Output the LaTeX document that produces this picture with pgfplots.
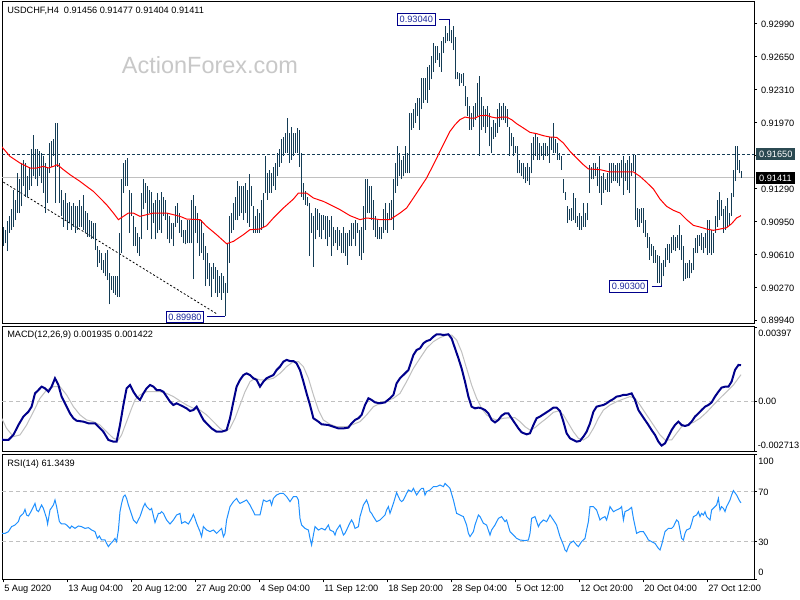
\documentclass[border=0pt]{standalone}
\usepackage{pgfplots}
\pgfplotsset{compat=1.18}
\usepackage{pgfplotstable}
\usepackage{fontspec}
\setmainfont{Liberation Sans}
\definecolor{barcol}{HTML}{143C55}
\definecolor{dsg}{HTML}{2B4A52}
\definecolor{navyb}{HTML}{00008B}
\definecolor{lblue}{HTML}{1E2A9E}
\definecolor{dodger}{HTML}{1E90FF}
\definecolor{silv}{HTML}{C0C0C0}
\definecolor{wm}{HTML}{C8C8C8}
\newcommand{\fs}{\fontsize{6.9}{8}\selectfont}

\pgfplotstableread{
lo hi
0.9070 0.9090
0.9073 0.9087
0.9065 0.9096
0.9084 0.9101
0.9087 0.9108
0.9090 0.9128
0.9097 0.9118
0.9104 0.9145
0.9104 0.9139
0.9111 0.9156
0.9132 0.9159
0.9121 0.9156
0.9121 0.9142
0.9128 0.9152
0.9132 0.9170
0.9142 0.9185
0.9139 0.9170
0.9132 0.9170
0.9142 0.9168
0.9135 0.9166
0.9125 0.9163
0.9104 0.9156
0.9115 0.9152
0.9145 0.9176
0.9152 0.9178
0.9163 0.9180
0.9115 0.9197
0.9152 0.9197
0.9115 0.9156
0.9101 0.9128
0.9090 0.9118
0.9097 0.9125
0.9087 0.9115
0.9094 0.9116
0.9087 0.9111
0.9090 0.9115
0.9084 0.9111
0.9087 0.9111
0.9090 0.9118
0.9090 0.9111
0.9087 0.9123
0.9084 0.9106
0.9080 0.9104
0.9080 0.9097
0.9077 0.9096
0.9077 0.9094
0.9066 0.9094
0.9049 0.9070
0.9053 0.9066
0.9046 0.9063
0.9042 0.9056
0.9039 0.9063
0.9035 0.9066
0.9010 0.9042
0.9025 0.9039
0.9022 0.9039
0.9020 0.9039
0.9018 0.9039
0.9018 0.9084
0.9063 0.9139
0.9125 0.9156
0.9132 0.9159
0.9132 0.9161
0.9084 0.9128
0.9101 0.9125
0.9070 0.9101
0.9070 0.9090
0.9063 0.9084
0.9060 0.9080
0.9077 0.9125
0.9108 0.9139
0.9115 0.9135
0.9087 0.9132
0.9104 0.9128
0.9077 0.9126
0.9094 0.9115
0.9077 0.9118
0.9084 0.9125
0.9087 0.9118
0.9084 0.9126
0.9101 0.9121
0.9097 0.9118
0.9077 0.9104
0.9073 0.9101
0.9077 0.9094
0.9070 0.9094
0.9090 0.9111
0.9094 0.9115
0.9084 0.9104
0.9080 0.9097
0.9073 0.9087
0.9072 0.9087
0.9073 0.9097
0.9073 0.9097
0.9073 0.9118
0.9036 0.9123
0.9084 0.9111
0.9073 0.9104
0.9060 0.9097
0.9063 0.9097
0.9056 0.9084
0.9029 0.9070
0.9036 0.9063
0.9029 0.9053
0.9018 0.9049
0.9036 0.9053
0.9022 0.9049
0.9018 0.9046
0.9022 0.9039
0.9015 0.9042
0.9022 0.9039
0.8998 0.9032
0.9022 0.9073
0.9053 0.9101
0.9084 0.9104
0.9087 0.9115
0.9097 0.9121
0.9097 0.9137
0.9101 0.9132
0.9104 0.9132
0.9097 0.9132
0.9104 0.9135
0.9094 0.9128
0.9090 0.9144
0.9111 0.9132
0.9084 0.9111
0.9084 0.9101
0.9084 0.9108
0.9084 0.9104
0.9087 0.9118
0.9090 0.9125
0.9125 0.9163
0.9118 0.9145
0.9125 0.9149
0.9125 0.9145
0.9132 0.9152
0.9128 0.9156
0.9142 0.9166
0.9152 0.9170
0.9156 0.9180
0.9163 0.9183
0.9166 0.9187
0.9166 0.9202
0.9156 0.9187
0.9159 0.9193
0.9163 0.9187
0.9166 0.9187
0.9166 0.9192
0.9152 0.9190
0.9121 0.9166
0.9118 0.9135
0.9113 0.9127
0.9111 0.9121
0.9060 0.9115
0.9084 0.9104
0.9049 0.9101
0.9077 0.9109
0.9087 0.9108
0.9080 0.9104
0.9077 0.9102
0.9087 0.9102
0.9077 0.9101
0.9070 0.9101
0.9080 0.9097
0.9060 0.9101
0.9070 0.9090
0.9073 0.9087
0.9066 0.9090
0.9070 0.9087
0.9063 0.9084
0.9063 0.9090
0.9060 0.9084
0.9051 0.9084
0.9070 0.9087
0.9070 0.9094
0.9077 0.9094
0.9070 0.9097
0.9084 0.9094
0.9060 0.9087
0.9056 0.9090
0.9063 0.9111
0.9087 0.9139
0.9104 0.9139
0.9104 0.9132
0.9097 0.9132
0.9087 0.9118
0.9080 0.9101
0.9077 0.9097
0.9077 0.9090
0.9077 0.9090
0.9084 0.9108
0.9087 0.9115
0.9084 0.9104
0.9097 0.9115
0.9097 0.9118
0.9087 0.9139
0.9125 0.9156
0.9132 0.9173
0.9142 0.9166
0.9139 0.9159
0.9142 0.9163
0.9145 0.9173
0.9145 0.9166
0.9145 0.9207
0.9190 0.9207
0.9192 0.9211
0.9197 0.9218
0.9204 0.9223
0.9190 0.9223
0.9211 0.9243
0.9218 0.9243
0.9221 0.9243
0.9218 0.9255
0.9231 0.9257
0.9242 0.9266
0.9250 0.9279
0.9259 0.9276
0.9262 0.9276
0.9255 0.9269
0.9250 0.9281
0.9269 0.9286
0.9279 0.9297
0.9281 0.9290
0.9281 0.9304
0.9279 0.9293
0.9272 0.9297
0.9242 0.9286
0.9242 0.9250
0.9235 0.9248
0.9238 0.9247
0.9235 0.9248
0.9214 0.9235
0.9204 0.9224
0.9190 0.9214
0.9190 0.9207
0.9193 0.9214
0.9200 0.9218
0.9204 0.9238
0.9163 0.9245
0.9190 0.9224
0.9193 0.9214
0.9187 0.9211
0.9193 0.9214
0.9173 0.9207
0.9166 0.9193
0.9180 0.9200
0.9183 0.9197
0.9187 0.9211
0.9193 0.9218
0.9200 0.9214
0.9200 0.9218
0.9197 0.9214
0.9193 0.9211
0.9163 0.9193
0.9173 0.9187
0.9163 0.9183
0.9166 0.9173
0.9145 0.9173
0.9145 0.9159
0.9142 0.9156
0.9139 0.9156
0.9135 0.9152
0.9137 0.9156
0.9133 0.9152
0.9145 0.9176
0.9159 0.9183
0.9163 0.9187
0.9159 0.9183
0.9159 0.9176
0.9163 0.9173
0.9159 0.9176
0.9163 0.9176
0.9163 0.9173
0.9156 0.9183
0.9169 0.9183
0.9166 0.9197
0.9166 0.9180
0.9159 0.9176
0.9159 0.9166
0.9149 0.9163
0.9125 0.9139
0.9118 0.9126
0.9094 0.9111
0.9097 0.9108
0.9096 0.9109
0.9097 0.9125
0.9094 0.9120
0.9090 0.9101
0.9087 0.9104
0.9087 0.9101
0.9090 0.9115
0.9090 0.9104
0.9097 0.9115
0.9125 0.9154
0.9139 0.9152
0.9139 0.9156
0.9142 0.9156
0.9132 0.9152
0.9125 0.9163
0.9113 0.9142
0.9125 0.9145
0.9128 0.9139
0.9126 0.9145
0.9126 0.9156
0.9135 0.9156
0.9137 0.9156
0.9137 0.9154
0.9135 0.9156
0.9132 0.9156
0.9140 0.9159
0.9123 0.9163
0.9137 0.9156
0.9128 0.9159
0.9125 0.9163
0.9142 0.9156
0.9147 0.9164
0.9097 0.9164
0.9090 0.9109
0.9090 0.9108
0.9094 0.9109
0.9084 0.9109
0.9080 0.9097
0.9068 0.9084
0.9056 0.9080
0.9060 0.9072
0.9053 0.9070
0.9053 0.9066
0.9032 0.9061
0.9032 0.9060
0.9030 0.9053
0.9039 0.9056
0.9049 0.9068
0.9056 0.9072
0.9053 0.9072
0.9063 0.9080
0.9066 0.9082
0.9065 0.9080
0.9068 0.9082
0.9066 0.9092
0.9056 0.9082
0.9034 0.9070
0.9036 0.9053
0.9037 0.9053
0.9037 0.9056
0.9042 0.9053
0.9046 0.9068
0.9063 0.9078
0.9063 0.9082
0.9070 0.9082
0.9066 0.9084
0.9063 0.9080
0.9068 0.9084
0.9061 0.9097
0.9063 0.9097
0.9061 0.9087
0.9063 0.9084
0.9084 0.9101
0.9090 0.9118
0.9097 0.9126
0.9101 0.9118
0.9084 0.9108
0.9087 0.9111
0.9090 0.9120
0.9092 0.9104
0.9101 0.9125
0.9121 0.9149
0.9137 0.9173
0.9149 0.9173
0.9145 0.9159
0.91404 0.91477
}\bars

\pgfplotstableread{
x y
-1.5 0.91746
3.5 0.91626
8.5 0.91557
13.5 0.91506
16.8 0.91506
20.2 0.91523
22.7 0.91506
25.2 0.91523
27.2 0.91540
30.2 0.91489
33.5 0.91437
38.5 0.91368
41.8 0.91317
45.2 0.91265
48.5 0.91197
51.8 0.91128
55.2 0.91042
57.7 0.90974
60.2 0.91008
62.7 0.91042
65.2 0.91042
68.5 0.91008
71.8 0.91025
75.2 0.91042
78.5 0.91042
81.8 0.91042
85.2 0.91025
88.5 0.91008
91.8 0.90980
98.5 0.90974
101.8 0.90905
106.8 0.90819
111.8 0.90726
115.2 0.90750
120.2 0.90819
123.5 0.90871
128.5 0.90877
131.8 0.90912
135.2 0.90991
140.2 0.91094
145.2 0.91186
147.7 0.91248
151.8 0.91248
155.2 0.91197
160.2 0.91162
165.2 0.91111
168.5 0.91077
173.5 0.91015
178.5 0.90974
181.8 0.90991
185.2 0.90984
188.5 0.90974
193.5 0.90974
196 0.91008
198.5 0.91042
201.8 0.91094
205.2 0.91197
208.5 0.91300
211.8 0.91403
215.2 0.91540
218.5 0.91678
221 0.91781
223.5 0.91884
226 0.91952
228.5 0.92004
231 0.92031
233.5 0.92021
236 0.92021
238.5 0.92045
241.8 0.92048
244.3 0.92031
246.8 0.92021
249.3 0.92031
251.8 0.92031
254.3 0.92004
256.8 0.91963
260.2 0.91918
263.5 0.91873
266.8 0.91860
270.2 0.91839
273.5 0.91825
276.8 0.91822
280.2 0.91763
283.5 0.91678
286.8 0.91609
290.2 0.91540
292.7 0.91496
298.5 0.91489
303.5 0.91465
308.5 0.91465
315.2 0.91465
318.5 0.91420
321.8 0.91358
325.2 0.91290
328.5 0.91186
331.8 0.91111
335.2 0.91070
338.5 0.91042
341.8 0.90974
345.2 0.90915
348.5 0.90898
351.8 0.90877
355.2 0.90864
358.5 0.90877
361.8 0.90891
364.3 0.90932
366.8 0.90991
369 0.91015
}\ma

\pgfplotstableread{
x y
-1.5 -0.00198
0.2 -0.00207
2.7 -0.00207
5.2 -0.00180
7.7 -0.00127
10.2 -0.00082
12.7 -0.00056
14.3 -0.00029
16 0.00042
17.7 0.00060
19.3 0.00078
21 0.00069
22.7 0.00051
24.3 0.00078
26 0.00123
27.7 0.00087
29.3 0.00025
31 -0.00011
33.5 -0.00065
35.2 -0.00091
36.8 -0.00104
40.2 -0.00109
42.7 -0.00118
46 -0.00118
47.7 -0.00136
50.2 -0.00163
52.7 -0.00207
55.2 -0.00216
56.8 -0.00216
58.5 -0.00127
60.2 -0.00020
61.8 0.00069
63.5 0.00087
65.2 0.00051
66.8 0.00025
68.5 0.00007
70.2 0.00042
71.8 0.00069
73.5 0.00087
75.2 0.00078
76.8 0.00060
78.5 0.00060
80.2 0.00051
81.8 0.00025
83.5 -0.00002
85.2 -0.00020
86.8 -0.00011
88.5 -0.00020
90.2 -0.00029
91.8 -0.00038
93.5 -0.00052
95.2 -0.00047
96.8 -0.00029
98.5 -0.00065
100.2 -0.00100
101.8 -0.00118
104.3 -0.00145
106.8 -0.00163
109.3 -0.00163
111.8 -0.00154
113.5 -0.00091
115.2 -0.00002
116.8 0.00078
118.5 0.00114
120.2 0.00140
121.8 0.00149
123.5 0.00140
125.2 0.00123
126.8 0.00114
128.5 0.00078
130.2 0.00105
131.8 0.00123
133.5 0.00132
135.2 0.00140
136.8 0.00167
138.5 0.00185
140.2 0.00212
141.8 0.00221
143.5 0.00215
145.2 0.00215
146.8 0.00203
148.5 0.00167
150.2 0.00105
151.8 0.00042
153.5 -0.00020
155.2 -0.00091
157.7 -0.00109
159.3 -0.00123
162.7 -0.00127
165.2 -0.00136
167.7 -0.00145
170.2 -0.00145
172.7 -0.00141
174.3 -0.00118
176 -0.00100
177.7 -0.00091
179.3 -0.00073
181 -0.00020
182.7 0.00016
184.3 0.00007
186 -0.00006
188.5 -0.00011
191 -0.00006
193.5 0.00016
195.2 0.00034
196.8 0.00096
198.5 0.00123
201 0.00149
202.7 0.00167
205.2 0.00247
206.8 0.00274
208.5 0.00283
210.2 0.00310
211.8 0.00322
213.5 0.00328
215.2 0.00345
216.8 0.00358
218.5 0.00358
220.2 0.00354
222.7 0.00358
224.3 0.00336
226 0.00283
227.7 0.00230
229.3 0.00176
231 0.00105
232.7 0.00025
234.3 -0.00029
236 -0.00038
237.7 -0.00034
239.3 -0.00038
241 -0.00047
242.7 -0.00065
244.3 -0.00100
246 -0.00113
247.7 -0.00100
249.3 -0.00077
251 -0.00065
252.7 -0.00065
254.3 -0.00091
256 -0.00118
257.7 -0.00145
259.3 -0.00166
261.8 -0.00177
263.5 -0.00171
265.2 -0.00127
266.8 -0.00091
268.5 -0.00082
270.2 -0.00070
271.8 -0.00059
273.5 -0.00047
275.2 -0.00034
276.8 -0.00034
278.5 -0.00052
280.2 -0.00109
281.8 -0.00171
283.5 -0.00198
285.2 -0.00207
286.8 -0.00216
288.5 -0.00212
290.2 -0.00189
291.8 -0.00163
293.5 -0.00118
295.2 -0.00056
296.8 -0.00029
298.5 -0.00024
300.2 -0.00020
301.8 -0.00011
303.5 0.00002
305.2 0.00012
306.8 0.00025
308.5 0.00028
310.2 0.00034
311.8 0.00034
314.3 0.00042
316 0.00007
317.7 -0.00047
319.3 -0.00073
321 -0.00100
322.7 -0.00127
324.3 -0.00154
326 -0.00180
327.7 -0.00216
329.3 -0.00237
331 -0.00225
332.7 -0.00189
334.3 -0.00154
336 -0.00127
337.7 -0.00109
339.3 -0.00127
341 -0.00132
342.7 -0.00127
344.3 -0.00109
346 -0.00082
347.7 -0.00065
349.3 -0.00047
351 -0.00029
352.7 -0.00020
354.3 -0.00006
356 0.00025
357.7 0.00051
359.3 0.00073
361 0.00078
362.7 0.00078
364.3 0.00105
366 0.00167
367.7 0.00194
369 0.001935
}\macd

\pgfplotstableread{
x y
-1.5 -0.00073
1.8 -0.00145
5.2 -0.00189
8.5 -0.00180
11.8 -0.00127
15.2 -0.00056
18.5 0.00016
21.8 0.00060
25.2 0.00078
28.5 0.00078
31.8 0.00034
35.2 -0.00029
38.5 -0.00073
41.8 -0.00100
45.2 -0.00109
48.5 -0.00127
51.8 -0.00163
55.2 -0.00198
57.7 -0.00207
59.3 -0.00180
61.8 -0.00109
64.3 -0.00038
66 0.00007
68.5 0.00034
71.8 0.00051
75.2 0.00051
78.5 0.00051
81.8 0.00042
85.2 0.00025
88.5 0.00002
91.8 -0.00020
95.2 -0.00038
98.5 -0.00047
101.8 -0.00073
105.2 -0.00109
108.5 -0.00145
111 -0.00163
113.5 -0.00145
116 -0.00091
118.5 -0.00020
121 0.00051
123.5 0.00105
126 0.00123
128.5 0.00114
131.8 0.00114
135.2 0.00123
138.5 0.00149
141.8 0.00185
145.2 0.00212
147.7 0.00212
150.2 0.00185
152.7 0.00123
155.2 0.00034
157.7 -0.00047
160.2 -0.00100
163.5 -0.00123
166.8 -0.00136
171.8 -0.00136
175.2 -0.00123
178.5 -0.00109
181.8 -0.00073
185.2 -0.00029
188.5 -0.00011
191.8 0.00002
195.2 0.00016
198.5 0.00042
201.8 0.00105
205.2 0.00176
208.5 0.00230
211.8 0.00283
215.2 0.00319
218.5 0.00340
221.8 0.00354
224.3 0.00354
226.8 0.00328
229.3 0.00265
231.8 0.00176
234.3 0.00087
236.8 0.00016
239.3 -0.00038
241.8 -0.00073
244.3 -0.00091
246.8 -0.00100
250.2 -0.00091
253.5 -0.00088
256 -0.00088
258.5 -0.00109
261 -0.00136
263.5 -0.00154
266 -0.00141
268.5 -0.00118
271.8 -0.00091
275.2 -0.00059
277.7 -0.00052
280.2 -0.00073
282.7 -0.00118
285.2 -0.00163
287.7 -0.00198
290.2 -0.00207
292.7 -0.00189
295.2 -0.00145
297.7 -0.00091
300.2 -0.00047
303.5 -0.00020
306.8 -0.00002
310.2 0.00012
313.5 0.00025
316 0.00016
318.5 -0.00020
321.8 -0.00073
325.2 -0.00127
328.5 -0.00180
331 -0.00207
334.3 -0.00207
336.8 -0.00171
339.3 -0.00136
341.8 -0.00127
345.2 -0.00113
348.5 -0.00091
351.8 -0.00059
355.2 -0.00020
358.5 0.00016
361.8 0.00051
365.2 0.00087
369 0.001422
}\signal

\pgfplotstableread{
x y
-0.7 36.9
1 36.9
2.7 38.3
4.3 42.3
6 43.6
7.7 46.3
8.5 50.3
10.2 52.9
11 56.1
11.8 51.6
12.7 50.8
13.5 52.9
15.2 58.3
16 60.9
16.8 55.6
17.7 54.3
18.5 56.9
19.3 59.6
20.2 56.9
21 52.9
21.8 48.9
22.3 44.4
23.5 55.6
25.2 59.6
26 63.6
26.8 58.3
28.2 46.3
29.3 44.4
31 44.4
31.8 43.6
33.5 40.9
34.3 42.8
36 40.9
37.7 42.8
39.3 42.3
41 40.9
42.7 41.5
44.3 39.6
46 38.3
47.2 32.9
48.2 34.8
49.3 31.6
51 31.6
51.8 28.9
52.7 26.3
53.5 28.1
55.2 31.1
56 32.9
56.8 30.3
57.7 39.6
58.5 54.3
59.3 60.9
60.2 66.3
61 67.6
61.8 64.9
62.7 59.6
63.8 54.3
65.2 47.6
66.8 44.9
68.5 50.3
70.2 58.3
71 60.9
71.8 58.3
73.5 55.6
74.3 56.9
76 45.5
77.7 52.9
78.5 52.9
79.3 54.3
80.2 52.9
81.8 47.6
83.5 44.4
85.2 47.6
86.8 51.6
88.5 52.9
89.3 44.9
91 46.3
92.7 44.4
94.3 48.9
95.2 52.1
96 48.9
96.8 44.9
98.5 38.3
99.3 34.3
100.2 42.3
101.8 39.6
103.5 38.3
105.2 39.6
106.8 36.9
108.5 39.6
109.3 40.9
110.2 34.3
111 36.9
111.8 47.6
113.5 58.3
115.2 62.3
116.8 64.9
117.7 62.3
118.5 60.9
120.2 62.3
121.8 63.6
123.5 59.6
125.2 54.3
126 51.6
127.7 51.6
128.5 51.6
130.2 63.6
131.8 62.3
133.5 63.6
134.3 59.6
135.2 64.9
136.8 67.6
138.5 68.9
140.2 68.9
141.8 66.3
143.5 62.3
145.2 66.3
146.8 66.3
147.7 63.6
148.5 48.9
149.3 43.6
151 40.9
152.7 39.6
153.5 32.9
154.3 27.6
155.2 35.6
156 42.3
157.7 39.6
159.3 40.9
161 39.6
162.7 43.6
163.5 39.6
165.2 38.3
166 35.6
166.8 39.6
168.5 43.6
170.2 35.6
171 36.9
171.8 39.6
173.5 45.5
174.3 47.6
175.2 44.9
176 40.9
177.7 42.3
178.5 50.3
180.2 59.6
181.8 63.6
182.7 59.6
183.5 54.3
184.3 52.9
185.2 50.3
186.8 46.3
188.5 47.6
190.2 50.3
191 51.6
191.8 55.6
192.7 58.3
193.5 52.9
195.2 60.9
196.8 69.5
198.5 63.6
199.3 62.3
200.2 63.6
201.8 68.9
202.7 71.6
204.3 70.3
205.2 72.9
206.8 67.6
208.5 71.6
209.3 72.9
210.2 72.9
211 67.6
211.8 70.3
213.5 71.6
215.2 74.3
216.8 74.3
218.5 75.6
220.2 74.3
221 76.9
221.8 75.6
222.7 74.3
223.5 72.9
225.2 63.6
226.8 52.9
228.5 51.6
230.2 50.3
231.8 43.6
232.7 36.9
233.5 34.3
235.2 38.3
236 43.6
237.7 51.6
238.5 50.3
240.2 44.9
241.8 43.6
243.5 35.6
244.3 39.6
246 43.6
247.7 48.9
249.3 50.3
251 46.3
251.8 47.6
253.5 38.3
255.2 35.6
256.8 32.9
258.5 31.6
261 31.1
262.7 31.6
263.5 36.9
264.3 48.9
266 50.3
267.7 42.3
268.5 44.9
270.2 47.6
271.8 46.3
272.7 48.9
273.5 51.6
275.2 47.6
276.8 43.6
278.5 34.3
280.2 27.6
281 23.6
281.8 22.3
282.7 26.3
283.5 28.9
285.2 30.8
286.8 27.6
287.7 26.3
289.3 30.3
291 32.9
291.8 39.6
292.7 46.3
293.5 58.3
295.2 58.3
296.8 55.6
298.5 47.6
299.3 48.9
301 50.3
301.8 47.6
302.7 52.9
303.5 58.3
305.2 54.3
306.8 55.6
308.5 56.9
309.3 58.3
310.2 47.6
311 54.3
312.7 55.6
314.3 57.7
315.2 48.9
316.8 36.9
318.5 38.3
320.2 38.3
321.8 34.3
322.7 31.6
324.3 30.3
326 28.9
327.7 24.9
328.5 23.6
329.3 27.6
331 38.3
332.7 40.9
334.3 40.9
335.2 42.3
336.8 47.6
337.7 46.3
338.5 39.6
339.3 32.9
340.2 31.6
341 36.9
341.8 39.6
343.5 40.9
344.3 44.9
345.2 50.3
346.8 51.6
347.7 54.3
348.5 50.3
349.3 52.9
350.2 51.6
351 54.3
351.8 50.3
352.7 48.9
353.5 47.6
354.3 55.6
356 58.3
356.8 59.6
357.7 64.9
358.5 55.6
359.3 58.3
360.2 56.9
361 54.3
361.8 58.3
363.5 63.6
364.3 67.6
365.2 71.1
366.8 67.6
368.5 62.3
369 61.34
}\rsi

\begin{document}
\begin{tikzpicture}
\pgfplotsset{
  panel/.style={
    scale only axis, width=564pt, xmin=-0.5, xmax=375.5,
    anchor=south west,
    axis line style={black, line width=0.75pt},
    tick style={black, line width=0.75pt},
    major tick length=2.25pt, tick align=outside,
    ytick pos=right, xtick pos=bottom,
    scaled y ticks=false, scaled x ticks=false,
    font=\fs, clip=true,
    yticklabel style={anchor=west, inner sep=0pt, xshift=2.8pt},
  }
}
\fill[white] (0pt,0pt) rectangle (600pt,450pt);
\begin{scope}[x=0.75pt,y=0.75pt]
\node[font=\fontsize{17.6}{20}\selectfont, text=wm, inner sep=0pt] at (210,535) {ActionForex.com};
\end{scope}

% main price panel
\begin{axis}[panel, at={(1.5pt,207.375pt)}, height=241.5pt,
  ymin=0.899040, ymax=0.932215, xtick=\empty,
  ytick={0.8994,0.9027,0.9061,0.9095,0.9129,0.9163,0.9197,0.9231,0.9265,0.9299},
  yticklabels={0.89940,0.90270,0.90610,0.90950,0.91290,0.91630,0.91970,0.92310,0.92650,0.92990}]
\addplot[silv, line width=0.75pt, forget plot] coordinates {(-0.5,0.91411) (375.5,0.91411)};
\addplot[barcol, line width=0.75pt, dash pattern=on 2.25pt off 1.5pt, forget plot] coordinates {(-0.5,0.9165) (375.5,0.9165)};
\addplot[black, line width=0.6pt, dash pattern=on 1.5pt off 1.5pt, forget plot] coordinates {(-1.5,0.91382) (107,0.90002)};
\addplot[draw=none, forget plot,
  error bars/.cd, y dir=plus, y explicit, error mark=none,
  error bar style={draw=barcol, line width=0.75pt}]
  table[x expr=\coordindex, y=lo, y error plus expr=\thisrow{hi}-\thisrow{lo}] {\bars};
\addplot[red, line width=0.75pt, forget plot] table[x=x, y=y] {\ma};
\end{axis}

% MACD panel
\begin{axis}[panel, at={(1.5pt,111pt)}, height=94.125pt,
  ymin=-0.002713, ymax=0.003997, xtick=\empty,
  ytick={-0.002713,0,0.00397}, yticklabels={}]
\addplot[silv, line width=0.75pt, dash pattern=on 3pt off 2.25pt, forget plot] coordinates {(-0.5,0) (375.5,0)};
\addplot[silv, line width=0.75pt, forget plot] table[x=x, y=y] {\signal};
\addplot[navyb, line width=1.5pt, forget plot] table[x=x, y=y] {\macd};
\end{axis}

% RSI panel
\begin{axis}[panel, at={(1.5pt,15.375pt)}, height=93.75pt,
  ymin=0, ymax=100,
  ytick={0,30,70,100}, yticklabels={},
  xtick={0,32,64,96,128,160,192,224,256,288,320,352},
  xticklabels={5 Aug 2020,13 Aug 04:00,20 Aug 12:00,27 Aug 20:00,4 Sep 04:00,11 Sep 12:00,18 Sep 20:00,28 Sep 04:00,5 Oct 12:00,12 Oct 20:00,20 Oct 04:00,27 Oct 12:00},
  xticklabel style={anchor=north west, inner sep=0pt, xshift=0.75pt, yshift=-1.8pt}]
\addplot[silv, line width=0.75pt, dash pattern=on 3pt off 2.25pt, forget plot] coordinates {(-0.5,70) (375.5,70)};
\addplot[silv, line width=0.75pt, dash pattern=on 3pt off 2.25pt, forget plot] coordinates {(-0.5,30) (375.5,30)};
\addplot[dodger, line width=0.75pt, forget plot] table[x=x, y=y] {\rsi};
\end{axis}

\begin{scope}[x=0.75pt,y=0.75pt]
% panel captions
\node[anchor=west, font=\fs, inner sep=0pt] at (7,589) {USDCHF,H4\ \ 0.91456 0.91477 0.91404 0.91411};
\node[anchor=west, font=\fs, inner sep=0pt] at (7,265) {MACD(12,26,9) 0.001935 0.001422};
\node[anchor=west, font=\fs, inner sep=0pt] at (7,136) {RSI(14) 61.3439};

% right-hand price boxes
\node[anchor=west, fill=dsg, text=white, font=\fs, inner xsep=2.2pt, inner ysep=0pt, minimum height=9pt] at (756,446) {0.91650};
\node[anchor=west, fill=black, text=white, font=\fs, inner xsep=2.2pt, inner ysep=0pt, minimum height=9pt] at (756,422) {0.91411};

% indicator scale labels
\node[anchor=west, font=\fs, inner sep=0pt] at (758,267) {0.00397};
\node[anchor=west, font=\fs, inner sep=0pt] at (758,199) {0.00};
\node[anchor=west, font=\fs, inner sep=0pt] at (757.5,155) {-0.002713};
\node[anchor=west, font=\fs, inner sep=0pt] at (758,138.3) {100};
\node[anchor=west, font=\fs, inner sep=0pt] at (758,107.7) {70};
\node[anchor=west, font=\fs, inner sep=0pt] at (758,57.7) {30};
\node[anchor=west, font=\fs, inner sep=0pt] at (758,27.7) {0};

% high/low price labels
\draw[navyb, line width=0.75pt] (439.3,580.5) -- (449.3,580.5) -- (449.3,575);
\node[anchor=west, draw=navyb, line width=0.75pt, fill=white, text=lblue, font=\fs, inner xsep=1.6pt, inner ysep=0pt, minimum height=8.5pt] at (397,580.5) {0.93040};
\draw[navyb, line width=0.75pt] (651.7,313.5) -- (661,313.5) -- (661,315);
\node[anchor=west, draw=navyb, line width=0.75pt, fill=white, text=lblue, font=\fs, inner xsep=1.6pt, inner ysep=0pt, minimum height=8.5pt] at (609.3,313.5) {0.90300};
\draw[navyb, line width=0.75pt] (207.3,283) -- (225,283);
\node[anchor=west, draw=navyb, line width=0.75pt, fill=white, text=lblue, font=\fs, inner xsep=1.6pt, inner ysep=0pt, minimum height=8.5pt] at (165.7,283) {0.89980};
\end{scope}
\pgfresetboundingbox
\path[use as bounding box] (0pt,0pt) rectangle (600pt,450pt);
\end{tikzpicture}
\end{document}
